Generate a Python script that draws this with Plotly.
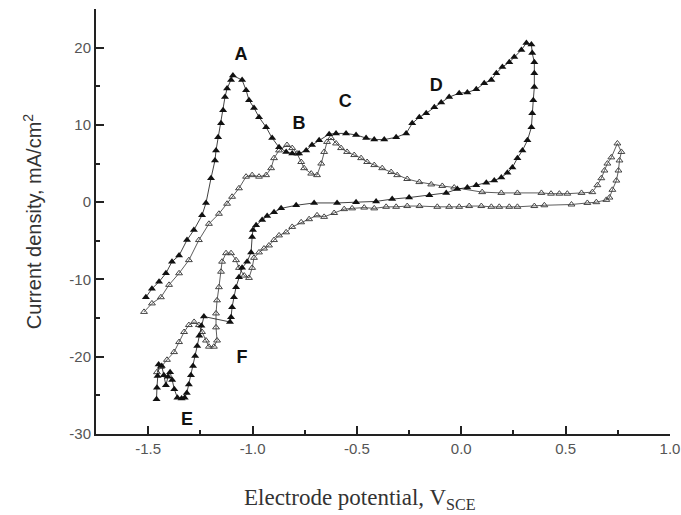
import plotly.graph_objects as go

# Scan 1 (filled triangles): potential (V vs SCE) and current density (mA/cm2)
filled_x = [-1.511, -1.482, -1.448, -1.415, -1.386, -1.352, -1.314, -1.281, -1.242, -1.223,
            -1.199, -1.18, -1.175, -1.165, -1.151, -1.141, -1.132, -1.122, -1.103, -1.094,
            -1.05, -1.031, -1.017, -0.993, -0.969, -0.935, -0.906, -0.873, -0.839, -0.81,
            -0.777, -0.743, -0.715, -0.681, -0.633, -0.6, -0.552, -0.504, -0.456, -0.417,
            -0.369, -0.312, -0.264, -0.235, -0.201, -0.168, -0.129, -0.096, -0.058, -0.01,
            0.029, 0.072, 0.11, 0.144, 0.168, 0.197, 0.23, 0.254, 0.288, 0.312, 0.336,
            0.34, 0.35, 0.35, 0.35, 0.345, 0.34, 0.336, 0.317, 0.293, 0.269, 0.245, 0.221,
            0.192, 0.158, 0.12, 0.072, 0.029, -0.019, -0.072, -0.153, -0.25, -0.331, -0.408,
            -0.504, -0.595, -0.705, -0.791, -0.863, -0.897, -0.93, -0.954, -0.983, -0.998,
            -1.002, -1.007, -1.026, -1.05, -1.065, -1.079, -1.089, -1.098, -1.103, -1.108,
            -1.233, -1.245, -1.255, -1.265, -1.275, -1.285, -1.295, -1.305, -1.315, -1.325,
            -1.34, -1.36, -1.375, -1.385, -1.395, -1.405, -1.415, -1.425, -1.435, -1.45,
            -1.455, -1.458, -1.46]
filled_y = [-12.3, -11.2, -10.3, -9.2, -7.7, -6.9, -4.9, -3.6, -1.7, -0.1,
            3.1, 5.4, 6.7, 8.4, 10.2, 11.9, 13.6, 14.7, 15.8, 16.4,
            15.8, 14.5, 13.2, 12.2, 11.0, 9.7, 8.3, 7.1, 6.5, 6.3,
            6.3, 6.7, 7.4, 8.0, 8.8, 8.9, 8.9, 8.7, 8.3, 8.1,
            8.1, 8.4, 8.9, 10.2, 11.0, 11.5, 12.3, 12.9, 13.6, 14.1,
            14.2, 14.6, 15.4, 15.8, 16.7, 17.5, 18.1, 18.8, 19.7, 20.6, 20.4,
            19.3, 18.1, 16.7, 14.9, 13.2, 11.5, 9.7, 8.0, 6.7, 5.7, 4.5, 3.8,
            3.2, 2.8, 2.5, 2.2, 1.9, 1.7, 1.2, 0.9, 0.6, 0.4, 0.1,
            0.0, -0.1, -0.1, -0.4, -0.8, -1.3, -1.8, -2.3, -3.0, -3.6,
            -4.5, -6.5, -7.7, -8.5, -9.7, -11.0, -12.3, -13.6, -14.9, -15.5,
            -14.8, -16.0, -17.3, -18.6, -19.9, -21.2, -22.4, -23.6, -24.7, -25.3,
            -25.4, -25.3, -24.2, -23.0, -22.0, -22.6, -23.7, -22.4, -21.2, -21.0,
            -22.5, -24.0, -25.5]

# Scan 2 (open triangles)
open_x = [-1.52, -1.482, -1.439, -1.4, -1.352, -1.305, -1.257, -1.209, -1.161, -1.122,
          -1.098, -1.065, -1.031, -1.002, -0.969, -0.935, -0.911, -0.897, -0.873, -0.835,
          -0.81, -0.787, -0.767, -0.753, -0.719, -0.691, -0.671, -0.657, -0.643, -0.624,
          -0.6, -0.576, -0.547, -0.513, -0.48, -0.451, -0.417, -0.379, -0.336, -0.307,
          -0.259, -0.201, -0.144, -0.091, -0.034, 0.1, 0.192, 0.269, 0.384, 0.43, 0.47,
          0.508, 0.576, 0.628, 0.652, 0.671, 0.686, 0.7, 0.719, 0.748, 0.767, 0.758,
          0.753, 0.743, 0.724, 0.71, 0.695, 0.647, 0.604, 0.528, 0.398, 0.35, 0.269,
          0.23, 0.182, 0.144, 0.096, 0.038, -0.01, -0.058, -0.115, -0.2, -0.259, -0.312,
          -0.36, -0.417, -0.465, -0.523, -0.561, -0.609, -0.657, -0.691, -0.729, -0.767,
          -0.81, -0.839, -0.873, -0.897, -0.921, -0.945, -0.969, -0.993, -1.002, -1.017,
          -1.04, -1.065, -1.079, -1.103, -1.127, -1.146, -1.151, -1.161, -1.17, -1.175,
          -1.175, -1.17, -1.185, -1.209, -1.223, -1.242, -1.257, -1.28, -1.305, -1.328,
          -1.352, -1.376, -1.41, -1.439, -1.458]
open_y = [-14.2, -13.1, -12.3, -10.7, -9.2, -7.5, -4.9, -2.8, -1.5, -0.2,
          0.7, 1.8, 3.3, 3.5, 3.3, 3.5, 4.4, 5.7, 6.7, 7.4,
          7.0, 6.3, 5.2, 4.4, 3.7, 3.5, 5.0, 6.5, 7.8, 8.3,
          7.6, 7.0, 6.5, 6.1, 5.7, 5.2, 4.8, 4.4, 3.9, 3.5,
          3.0, 2.6, 2.3, 2.1, 1.9, 1.3, 1.2, 1.2, 1.2, 1.1, 1.1,
          1.1, 1.2, 1.3, 2.2, 3.1, 4.1, 5.0, 5.8, 7.6, 6.5, 5.4,
          4.1, 2.8, 1.6, 0.6, 0.3, 0.0, -0.1, -0.3, -0.4, -0.5, -0.6,
          -0.6, -0.6, -0.6, -0.5, -0.5, -0.6, -0.6, -0.6, -0.5, -0.5, -0.6,
          -0.6, -0.8, -0.7, -0.8, -0.9, -1.4, -1.9, -1.7, -2.2, -2.6,
          -3.2, -3.9, -4.3, -4.9, -5.6, -6.0, -6.5, -7.2, -8.5, -9.8,
          -9.5, -8.5, -7.5, -6.6, -6.6, -7.7, -9.0, -11.0, -12.7, -14.4,
          -16.2, -17.9, -18.7, -18.7, -17.9, -16.8, -15.9, -15.5, -15.9, -16.8,
          -18.1, -19.4, -20.4, -21.3, -22.0]

# Peak labels
peak_labels = ["A", "B", "C", "D", "E", "F"]
peak_x = [-1.055, -0.777, -0.556, -0.12, -1.314, -1.05]
peak_y = [19.0, 10.1, 12.9, 15.0, -28.2, -20.2]

# Tick labels (as printed, with ASCII hyphens)
x_ticks = [-1.5, -1.0, -0.5, 0.0, 0.5, 1.0]
x_ticklabels = ["-1.5", "-1.0", "-0.5", "0.0", "0.5", "1.0"]
y_ticks = [-30, -20, -10, 0, 10, 20]
y_ticklabels = ["-30", "-20", "-10", "0", "10", "20"]

fig = go.Figure()
fig.add_trace(go.Scatter(
    x=open_x, y=open_y, mode="lines+markers",
    line=dict(color="#333333", width=0.8),
    marker=dict(symbol="triangle-up-open", size=6, color="#444444",
                line=dict(width=1, color="#444444")),
    showlegend=False))
fig.add_trace(go.Scatter(
    x=filled_x, y=filled_y, mode="lines+markers",
    line=dict(color="#111111", width=0.8),
    marker=dict(symbol="triangle-up", size=7, color="#111111"),
    showlegend=False))
fig.add_trace(go.Scatter(
    x=peak_x, y=peak_y, mode="text", text=peak_labels,
    textfont=dict(family="Liberation Sans, Arial", size=18, color="#111111"),
    texttemplate="<b>%{text}</b>",
    showlegend=False))

axis_common = dict(
    showline=True, linecolor="#222222", linewidth=2,
    ticks="inside", tickcolor="#222222", tickwidth=2, ticklen=8,
    showgrid=False, zeroline=False, mirror=False,
    automargin=False, ticklabeloverflow="allow",
    tickfont=dict(family="Liberation Sans, Arial", size=15, color="#555555"),
)
fig.update_xaxes(range=[-1.75, 1.0], tickmode="array", tickvals=x_ticks, ticktext=x_ticklabels,
                 minor=dict(ticks="inside", ticklen=4, tickwidth=2, tickcolor="#222222", dtick=0.25, tick0=-1.75),
                 **axis_common)
fig.update_yaxes(range=[-30, 25], tickmode="array", tickvals=y_ticks, ticktext=y_ticklabels,
                 minor=dict(ticks="inside", ticklen=4, tickwidth=2, tickcolor="#222222", dtick=5, tick0=-30),
                 title=dict(text="Current density, mA/cm<sup>2</sup>",
                            font=dict(family="Liberation Sans, Arial", size=20, color="#333333"),
                            standoff=22),
                 **axis_common)
fig.add_annotation(
    text="Electrode potential, V<sub>SCE</sub>",
    xref="paper", yref="paper", x=0.46, y=-0.153,
    xanchor="center", yanchor="middle", showarrow=False,
    font=dict(family="Liberation Serif, Times New Roman", size=23, color="#333333"))
fig.update_layout(
    width=681, height=515,
    margin=dict(l=96, r=11, t=9, b=81, autoexpand=False),
    plot_bgcolor="white", paper_bgcolor="white",
)
fig.write_html("out.html", config={"displayModeBar": False},
               post_script="document.body.style.margin='0';document.body.style.overflow='hidden';")
